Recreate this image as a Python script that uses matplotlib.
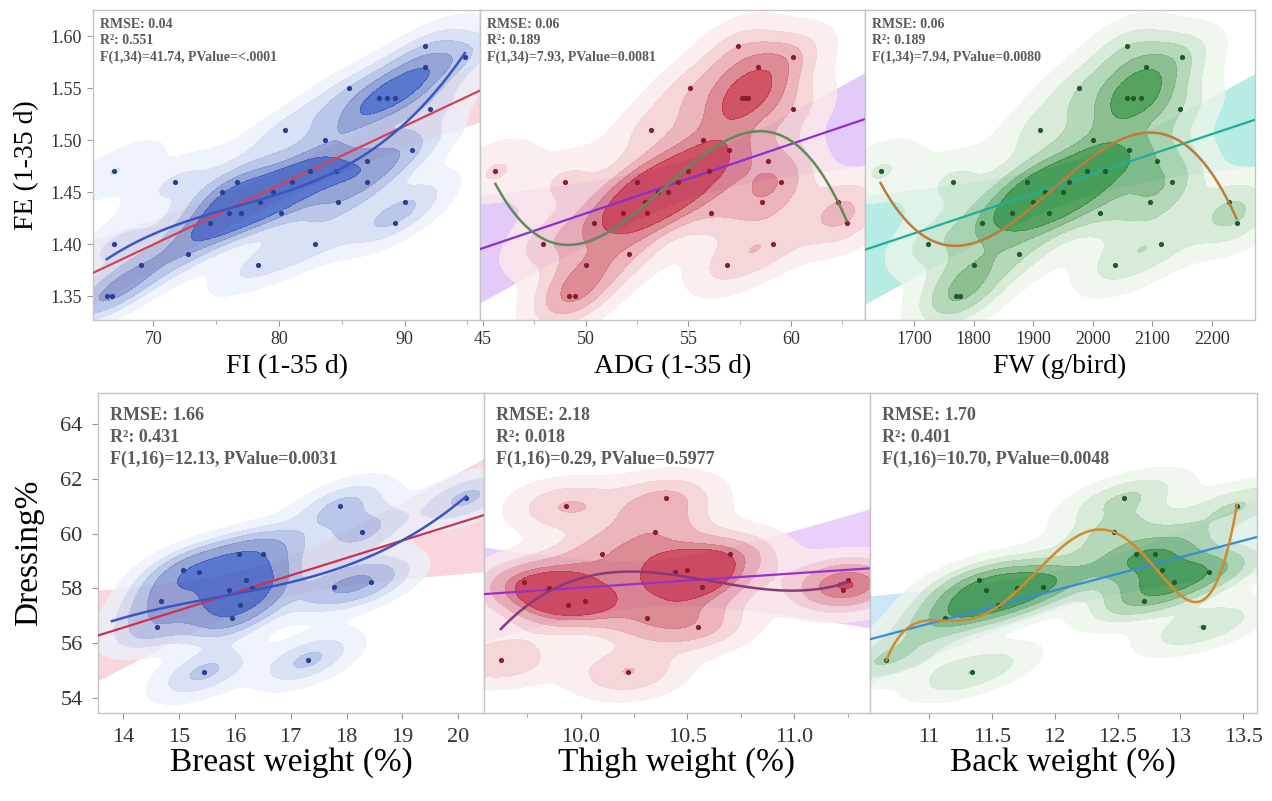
import numpy as np
import matplotlib
matplotlib.use("Agg")
import matplotlib.pyplot as plt
from matplotlib.ticker import MultipleLocator

plt.rcParams['font.family'] = ['Liberation Serif', 'DejaVu Serif']

# ---- top row: 36 pens, FE shared by the three panels ----
fe = [1.35, 1.35, 1.38, 1.38, 1.39, 1.40, 1.40, 1.42, 1.42, 1.43, 1.43, 1.43,
      1.44, 1.44, 1.44, 1.46, 1.46, 1.46, 1.47, 1.48, 1.49, 1.50, 1.51, 1.53,
      1.54, 1.54, 1.55, 1.57, 1.58, 1.59, 1.45, 1.45, 1.47, 1.47, 1.46, 1.54]
fi = [66.3, 66.7, 69.0, 78.3, 72.8, 66.9, 82.9, 74.5, 89.2, 77.0, 80.2, 76.0,
      84.7, 90.0, 78.5, 71.7, 76.7, 87.0, 66.9, 87.0, 90.6, 83.7, 80.5, 92.0,
      88.0, 89.2, 85.6, 91.6, 94.8, 91.6, 79.5, 75.5, 82.5, 84.5, 81.0, 88.6]
adg = [49.2, 49.5, 50.0, 56.9, 52.1, 47.9, 59.1, 50.4, 62.7, 51.8, 56.1, 53.0,
       58.6, 62.3, 52.9, 49.0, 52.5, 59.5, 45.6, 58.9, 57.0, 55.7, 53.2, 60.1,
       57.6, 57.9, 55.1, 58.4, 60.1, 57.4, 54.0, 53.5, 56.0, 55.0, 54.5, 57.75]
fw = [1770, 1778, 1801, 2038, 1876, 1724, 2114, 1814, 2241, 1864, 1927, 2012,
      2096, 2229, 1900, 1765, 1889, 2132, 1644, 2107, 2060, 2000, 1911, 2146,
      2057, 2080, 1977, 2089, 2150, 2057, 1950, 1920, 2020, 1990, 1960, 2068]

# ---- bottom row: 18 birds, dressing % shared ----
dressing = [61.3, 61.0, 60.07, 59.24, 59.24, 58.67, 58.58, 58.24, 58.06,
            57.94, 57.55, 57.4, 56.91, 56.6, 55.39, 54.94, 58.3, 58.0]
breast = [20.14, 17.89, 18.28, 16.07, 16.5, 15.07, 15.36, 18.44, 17.77,
          15.9, 14.68, 16.1, 15.95, 14.6, 17.31, 15.45, 16.2, 16.3]
thigh = [10.40, 9.93, 10.35, 10.10, 10.70, 10.50, 10.44, 9.735, 10.57,
         11.23, 10.02, 9.94, 10.31, 10.55, 9.626, 10.22, 11.25, 9.85]
back = [12.55, 13.45, 12.47, 12.80, 12.65, 12.85, 13.23, 12.95, 11.91,
        11.45, 12.71, 11.55, 11.13, 13.18, 10.66, 11.34, 11.40, 11.70]

stats_top = ["RMSE: 0.04\nR²: 0.551\nF(1,34)=41.74, PValue=<.0001",
             "RMSE: 0.06\nR²: 0.189\nF(1,34)=7.93, PValue=0.0081",
             "RMSE: 0.06\nR²: 0.189\nF(1,34)=7.94, PValue=0.0080"]
stats_bot = ["RMSE: 1.66\nR²: 0.431\nF(1,16)=12.13, PValue=0.0031",
             "RMSE: 2.18\nR²: 0.018\nF(1,16)=0.29, PValue=0.5977",
             "RMSE: 1.70\nR²: 0.401\nF(1,16)=10.70, PValue=0.0048"]

blues = ['#ebf0fa', '#d0dbf2', '#a9bae3', '#7a8fcc', '#3157c2']
reds = ['#fbeaea', '#f3cdd0', '#e6a3aa', '#d46f7b', '#c32a3e']
greens = ['#ebf5eb', '#cfe6cf', '#a3cfa6', '#6fae76', '#2b8b39']
iso = [0.03, 0.15, 0.35, 0.55, 0.75, 1.0]


def kde_fill(ax, x, y, cols, bw=0.62):
    # gaussian kde with full covariance (scott factor), iso-proportion levels
    n = len(x)
    f = n ** (-1 / 6) * bw
    cov = np.cov(x, y) * f * f
    inv = np.linalg.inv(cov)
    xl, yl = ax.get_xlim(), ax.get_ylim()
    gx = np.linspace(xl[0], xl[1], 240)
    gy = np.linspace(yl[0], yl[1], 240)
    X, Y = np.meshgrid(gx, gy)
    Z = np.zeros_like(X)
    for xi, yi in zip(x, y):
        dx, dy = X - xi, Y - yi
        Z += np.exp(-0.5 * (inv[0, 0] * dx * dx + 2 * inv[0, 1] * dx * dy
                            + inv[1, 1] * dy * dy))
    vals = np.sort(Z.ravel())[::-1]
    cum = np.cumsum(vals) / vals.sum()
    idx = np.searchsorted(cum, 1 - np.asarray(iso))
    lev = np.sort(np.take(vals, idx, mode='clip'))
    lev[-1] = Z.max() * 1.01
    ax.contourf(X, Y, Z, levels=lev, colors=cols, alpha=0.8, zorder=2)


def panel(ax, x, y, xlim, ylim, kde_cols, dot_col, line_col, band_col,
          smooth_col, deg, t, txt, fs_txt, txt_xy, ext=None):
    x = np.asarray(x, float)
    y = np.asarray(y, float)
    ax.set_xlim(xlim)
    ax.set_ylim(ylim)
    b1, b0 = np.polyfit(x, y, 1)
    n = len(x)
    s = np.sqrt(np.sum((y - (b0 + b1 * x)) ** 2) / (n - 2))
    xs = np.linspace(xlim[0], xlim[1], 200)
    se = s * np.sqrt(1 / n + (xs - x.mean()) ** 2 / np.sum((x - x.mean()) ** 2))
    yf = b0 + b1 * xs
    ax.fill_between(xs, yf - t * se, yf + t * se, color=band_col, alpha=0.45,
                    lw=0, zorder=1)
    kde_fill(ax, x, y, kde_cols)
    ax.plot(xs, yf, color=line_col, lw=1.6, zorder=3)
    ax.scatter(x, y, s=14, color=dot_col, zorder=4, lw=0)
    p = np.polyfit(x, y, deg)
    lo = x.min() if ext is None else ext
    xc = np.linspace(lo, x.max(), 200)
    ax.plot(xc, np.polyval(p, xc), color=smooth_col, lw=1.8, zorder=5)
    ax.text(txt_xy[0], txt_xy[1], txt, transform=ax.transAxes, ha='left',
            va='top', fontsize=fs_txt, fontweight='bold', color='#5a5a5a',
            linespacing=1.35, zorder=6)
    for sp in ax.spines.values():
        sp.set_color('#c4c4c4')
        sp.set_linewidth(1.0)
    ax.tick_params(direction='out', length=4, color='#999999',
                   labelcolor='#333333')
    ax.tick_params(which='minor', direction='out', length=3, color='#999999')


fig = plt.figure(figsize=(12.72, 8.01), dpi=100)
W, H = 1272, 801


def mk(x0, x1, y0, y1):
    return fig.add_axes([x0 / W, 1 - y1 / H, (x1 - x0) / W, (y1 - y0) / H])


t34, t16 = 2.032, 2.120
top_ylim = (1.327, 1.625)
bot_ylim = (53.45, 65.13)

a1 = mk(93, 480, 10, 320)
panel(a1, fi, fe, (65.2, 96.0), top_ylim, blues, '#2a3f8f', '#d84058',
      '#f3a6b0', '#3a55c4', 3, t34, stats_top[0], 10, (0.018, 0.975))
a2 = mk(480, 865, 10, 320)
panel(a2, adg, fe, (44.85, 63.6), top_ylim, reds, '#8a1d2a', '#8a2fd0',
      '#c58af0', '#5f8a5a', 3, t34, stats_top[1], 10, (0.018, 0.975))
a3 = mk(865, 1255, 10, 320)
panel(a3, fw, fe, (1618, 2272), top_ylim, greens, '#1f5a2a', '#1fae98',
      '#5fd6c4', '#c07a3a', 3, t34, stats_top[2], 10, (0.018, 0.975))

b1 = mk(98, 484, 393, 713)
panel(b1, breast, dressing, (13.55, 20.46), bot_ylim, blues, '#2a3f8f',
      '#d03050', '#f3a6b0', '#3a55c4', 3, t16, stats_bot[0], 13,
      (0.031, 0.955), ext=13.8)
b2 = mk(484, 870, 393, 713)
panel(b2, thigh, dressing, (9.547, 11.355), bot_ylim, reds, '#8a1d2a',
      '#9a30c8', '#cf95f2', '#8a3a7a', 3, t16, stats_bot[1], 13,
      (0.031, 0.955))
b3 = mk(870, 1257, 393, 713)
panel(b3, back, dressing, (10.53, 13.61), bot_ylim, greens, '#1f5a2a',
      '#3a8ad6', '#8cc6f2', '#d08a30', 5, t16, stats_bot[2], 13,
      (0.031, 0.955))

# ticks
a1.set_yticks([1.35, 1.40, 1.45, 1.50, 1.55, 1.60])
a1.set_yticklabels(['1.35', '1.40', '1.45', '1.50', '1.55', '1.60'])
a1.set_xticks([70, 80, 90])
a1.xaxis.set_minor_locator(MultipleLocator(5))
a2.set_xticks([45, 50, 55, 60])
a2.xaxis.set_minor_locator(MultipleLocator(2.5))
a3.set_xticks([1700, 1800, 1900, 2000, 2100, 2200])
for a in (a2, a3, b2, b3):
    a.tick_params(axis='y', left=False, labelleft=False)
b1.set_yticks([54, 56, 58, 60, 62, 64])
b1.set_xticks([14, 15, 16, 17, 18, 19, 20])
b2.set_xticks([10.0, 10.5, 11.0])
b2.set_xticklabels(['10.0', '10.5', '11.0'])
b2.xaxis.set_minor_locator(MultipleLocator(0.25))
b3.set_xticks([11, 11.5, 12, 12.5, 13, 13.5])
b3.set_xticklabels(['11', '11.5', '12', '12.5', '13', '13.5'])

for a in (a1, a2, a3):
    a.tick_params(labelsize=13, pad=4)
for a in (b1, b2, b3):
    a.tick_params(labelsize=16, pad=7)

a1.set_ylabel('FE (1-35 d)', fontsize=20, labelpad=8)
a1.set_xlabel('FI (1-35 d)', fontsize=20, labelpad=4)
a2.set_xlabel('ADG (1-35 d)', fontsize=20, labelpad=4)
a3.set_xlabel('FW (g/bird)', fontsize=20, labelpad=4)
b1.set_ylabel('Dressing%', fontsize=24, labelpad=12)
b1.set_xlabel('Breast weight (%)', fontsize=24, labelpad=0)
b2.set_xlabel('Thigh weight (%)', fontsize=24, labelpad=0)
b3.set_xlabel('Back weight (%)', fontsize=24, labelpad=0)

fig.savefig('out.png', dpi=100)
